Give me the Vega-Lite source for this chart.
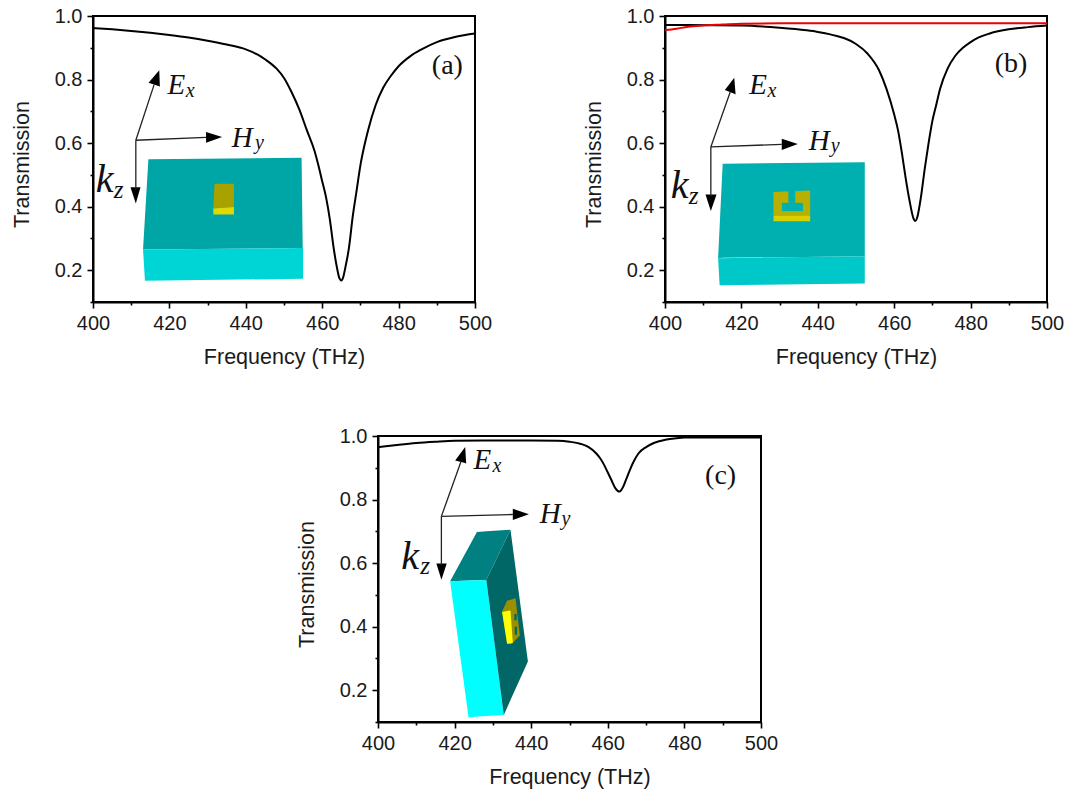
{"$schema":"https://vega.github.io/schema/vega-lite/v6.json","padding":{"left":10,"top":5,"right":0,"bottom":0},"background":"white",
"config":{"view":{"stroke":null},"axis":{"grid":false,"domainColor":"#000","domainWidth":2,"tickColor":"#000","tickWidth":1.6,"labelFont":"Liberation Sans","labelFontSize":20,"labelColor":"#1a1a1a","titleFont":"Liberation Sans","titleFontSize":21.5,"titleFontWeight":"normal","titleColor":"#1a1a1a","labelOverlap":false,"labelFlush":false,"labelBound":false}},
"resolve":{"scale":{"color":"independent","size":"independent"}},
"datasets":{
"curve":[
{"panel":"a","series":"black","x":400,"y":0.962},{"panel":"a","series":"black","x":405,"y":0.958},{"panel":"a","series":"black","x":410,"y":0.953},{"panel":"a","series":"black","x":415,"y":0.947},{"panel":"a","series":"black","x":420,"y":0.94},{"panel":"a","series":"black","x":425,"y":0.932},{"panel":"a","series":"black","x":430,"y":0.922},{"panel":"a","series":"black","x":435,"y":0.91},{"panel":"a","series":"black","x":440,"y":0.895},{"panel":"a","series":"black","x":443,"y":0.879},{"panel":"a","series":"black","x":445,"y":0.864},{"panel":"a","series":"black","x":448,"y":0.835},{"panel":"a","series":"black","x":450,"y":0.805},{"panel":"a","series":"black","x":452,"y":0.76},{"panel":"a","series":"black","x":454,"y":0.706},{"panel":"a","series":"black","x":456,"y":0.64},{"panel":"a","series":"black","x":458,"y":0.575},{"panel":"a","series":"black","x":459,"y":0.53},{"panel":"a","series":"black","x":460,"y":0.48},{"panel":"a","series":"black","x":461,"y":0.43},{"panel":"a","series":"black","x":462,"y":0.36},{"panel":"a","series":"black","x":463,"y":0.27},{"panel":"a","series":"black","x":464,"y":0.2},{"panel":"a","series":"black","x":464.5,"y":0.175},{"panel":"a","series":"black","x":465,"y":0.168},{"panel":"a","series":"black","x":465.5,"y":0.178},{"panel":"a","series":"black","x":466,"y":0.205},{"panel":"a","series":"black","x":467,"y":0.27},{"panel":"a","series":"black","x":468,"y":0.37},{"panel":"a","series":"black","x":469,"y":0.45},{"panel":"a","series":"black","x":470,"y":0.53},{"panel":"a","series":"black","x":471,"y":0.59},{"panel":"a","series":"black","x":472,"y":0.64},{"panel":"a","series":"black","x":474,"y":0.72},{"panel":"a","series":"black","x":476,"y":0.775},{"panel":"a","series":"black","x":478,"y":0.812},{"panel":"a","series":"black","x":480,"y":0.842},{"panel":"a","series":"black","x":483,"y":0.873},{"panel":"a","series":"black","x":486,"y":0.895},{"panel":"a","series":"black","x":490,"y":0.918},{"panel":"a","series":"black","x":495,"y":0.935},{"panel":"a","series":"black","x":500,"y":0.945},
{"panel":"b","series":"black","x":400,"y":0.972},{"panel":"b","series":"black","x":420,"y":0.97},{"panel":"b","series":"black","x":430,"y":0.963},{"panel":"b","series":"black","x":437,"y":0.955},{"panel":"b","series":"black","x":440,"y":0.95},{"panel":"b","series":"black","x":443,"y":0.943},{"panel":"b","series":"black","x":445,"y":0.937},{"panel":"b","series":"black","x":447,"y":0.93},{"panel":"b","series":"black","x":450,"y":0.912},{"panel":"b","series":"black","x":453,"y":0.882},{"panel":"b","series":"black","x":456,"y":0.83},{"panel":"b","series":"black","x":458,"y":0.77},{"panel":"b","series":"black","x":460,"y":0.69},{"panel":"b","series":"black","x":461,"y":0.64},{"panel":"b","series":"black","x":462,"y":0.57},{"panel":"b","series":"black","x":463,"y":0.49},{"panel":"b","series":"black","x":464,"y":0.42},{"panel":"b","series":"black","x":465,"y":0.365},{"panel":"b","series":"black","x":465.5,"y":0.355},{"panel":"b","series":"black","x":466,"y":0.365},{"panel":"b","series":"black","x":467,"y":0.43},{"panel":"b","series":"black","x":468,"y":0.52},{"panel":"b","series":"black","x":469,"y":0.6},{"panel":"b","series":"black","x":470,"y":0.67},{"panel":"b","series":"black","x":471,"y":0.72},{"panel":"b","series":"black","x":472,"y":0.77},{"panel":"b","series":"black","x":474,"y":0.835},{"panel":"b","series":"black","x":476,"y":0.875},{"panel":"b","series":"black","x":478,"y":0.9},{"panel":"b","series":"black","x":480,"y":0.918},{"panel":"b","series":"black","x":482,"y":0.932},{"panel":"b","series":"black","x":485,"y":0.945},{"panel":"b","series":"black","x":490,"y":0.958},{"panel":"b","series":"black","x":495,"y":0.965},{"panel":"b","series":"black","x":500,"y":0.97},
{"panel":"b","series":"red","x":400,"y":0.955},{"panel":"b","series":"red","x":403,"y":0.96},{"panel":"b","series":"red","x":406,"y":0.966},{"panel":"b","series":"red","x":410,"y":0.97},{"panel":"b","series":"red","x":415,"y":0.973},{"panel":"b","series":"red","x":420,"y":0.976},{"panel":"b","series":"red","x":430,"y":0.977},{"panel":"b","series":"red","x":460,"y":0.977},{"panel":"b","series":"red","x":500,"y":0.977},
{"panel":"c","series":"black","x":400,"y":0.965},{"panel":"c","series":"black","x":402,"y":0.968},{"panel":"c","series":"black","x":405,"y":0.972},{"panel":"c","series":"black","x":410,"y":0.978},{"panel":"c","series":"black","x":415,"y":0.982},{"panel":"c","series":"black","x":420,"y":0.985},{"panel":"c","series":"black","x":430,"y":0.986},{"panel":"c","series":"black","x":440,"y":0.986},{"panel":"c","series":"black","x":447,"y":0.985},{"panel":"c","series":"black","x":450,"y":0.982},{"panel":"c","series":"black","x":453,"y":0.975},{"panel":"c","series":"black","x":455,"y":0.965},{"panel":"c","series":"black","x":457,"y":0.945},{"panel":"c","series":"black","x":458,"y":0.93},{"panel":"c","series":"black","x":459,"y":0.91},{"panel":"c","series":"black","x":460,"y":0.885},{"panel":"c","series":"black","x":461,"y":0.86},{"panel":"c","series":"black","x":462,"y":0.835},{"panel":"c","series":"black","x":463,"y":0.825},{"panel":"c","series":"black","x":463.5,"y":0.83},{"panel":"c","series":"black","x":464,"y":0.84},{"panel":"c","series":"black","x":465,"y":0.87},{"panel":"c","series":"black","x":466,"y":0.9},{"panel":"c","series":"black","x":467,"y":0.925},{"panel":"c","series":"black","x":468,"y":0.945},{"panel":"c","series":"black","x":470,"y":0.965},{"panel":"c","series":"black","x":472,"y":0.978},{"panel":"c","series":"black","x":475,"y":0.988},{"panel":"c","series":"black","x":478,"y":0.993},{"panel":"c","series":"black","x":480,"y":0.995},{"panel":"c","series":"black","x":500,"y":0.995}
],
"shape":[
{"panel":"a","part":"1top","x":413.1,"y":0.265,"bottom":0.265},{"panel":"a","part":"1top","x":414.5,"y":0.549,"bottom":0.265},{"panel":"a","part":"1top","x":454.6,"y":0.554,"bottom":0.27},{"panel":"a","part":"1top","x":454.9,"y":0.27,"bottom":0.27},
{"panel":"a","part":"2front","x":413.1,"y":0.265,"bottom":0.265},{"panel":"a","part":"2front","x":413.6,"y":0.265,"bottom":0.167},{"panel":"a","part":"2front","x":454.9,"y":0.27,"bottom":0.173},{"panel":"a","part":"2front","x":455,"y":0.27,"bottom":0.173},
{"panel":"a","part":"3gold","x":431.5,"y":0.394,"bottom":0.394},{"panel":"a","part":"3gold","x":431.8,"y":0.472,"bottom":0.394},{"panel":"a","part":"3gold","x":436.9,"y":0.472,"bottom":0.399},
{"panel":"a","part":"4goldfront","x":431.5,"y":0.394,"bottom":0.375},{"panel":"a","part":"4goldfront","x":436.9,"y":0.399,"bottom":0.375},
{"panel":"a","part":"7headE","x":414.54,"y":0.79,"bottom":0.79},{"panel":"a","part":"7headE","x":417.34,"y":0.829,"bottom":0.779},{"panel":"a","part":"7headE","x":417.51,"y":0.777,"bottom":0.777},
{"panel":"a","part":"8headH","x":429.6,"y":0.635,"bottom":0.601},{"panel":"a","part":"8headH","x":433.8,"y":0.619,"bottom":0.619},
{"panel":"a","part":"9headK","x":409.81,"y":0.461,"bottom":0.461},{"panel":"a","part":"9headK","x":411.21,"y":0.461,"bottom":0.41},{"panel":"a","part":"9headK","x":412.43,"y":0.461,"bottom":0.461},
{"panel":"b","part":"1top","x":413.9,"y":0.238,"bottom":0.238},{"panel":"b","part":"1top","x":415.1,"y":0.535,"bottom":0.239},{"panel":"b","part":"1top","x":452.2,"y":0.54,"bottom":0.244},{"panel":"b","part":"1top","x":452.3,"y":0.54,"bottom":0.244},
{"panel":"b","part":"2front","x":413.9,"y":0.238,"bottom":0.238},{"panel":"b","part":"2front","x":414.3,"y":0.238,"bottom":0.153},{"panel":"b","part":"2front","x":452.2,"y":0.244,"bottom":0.158},{"panel":"b","part":"2front","x":452.3,"y":0.244,"bottom":0.158},
{"panel":"b","part":"3gold","x":428.4,"y":0.446,"bottom":0.372},{"panel":"b","part":"3gold","x":438,"y":0.451,"bottom":0.372},
{"panel":"b","part":"4goldfront","x":428.4,"y":0.372,"bottom":0.354},{"panel":"b","part":"4goldfront","x":438,"y":0.372,"bottom":0.354},
{"panel":"b","part":"5hole","x":432.3,"y":0.452,"bottom":0.412},{"panel":"b","part":"5hole","x":434.1,"y":0.452,"bottom":0.412},
{"panel":"b","part":"6hole","x":430.6,"y":0.412,"bottom":0.386},{"panel":"b","part":"6hole","x":436.1,"y":0.412,"bottom":0.386},
{"panel":"b","part":"7headE","x":415.67,"y":0.767,"bottom":0.767},{"panel":"b","part":"7headE","x":418.13,"y":0.806,"bottom":0.755},{"panel":"b","part":"7headE","x":418.48,"y":0.753,"bottom":0.753},
{"panel":"b","part":"8headH","x":430.56,"y":0.614,"bottom":0.578},{"panel":"b","part":"8headH","x":434.76,"y":0.597,"bottom":0.597},
{"panel":"b","part":"9headK","x":410.6,"y":0.438,"bottom":0.438},{"panel":"b","part":"9headK","x":412,"y":0.438,"bottom":0.386},{"panel":"b","part":"9headK","x":413.49,"y":0.438,"bottom":0.438},
{"panel":"c","part":"1top","x":418.83,"y":0.543,"bottom":0.543},{"panel":"c","part":"1top","x":425.83,"y":0.698,"bottom":0.546},{"panel":"c","part":"1top","x":428.28,"y":0.7,"bottom":0.547},{"panel":"c","part":"1top","x":434.59,"y":0.705,"bottom":0.705},
{"panel":"c","part":"2front","x":418.83,"y":0.543,"bottom":0.543},{"panel":"c","part":"2front","x":423.64,"y":0.545,"bottom":0.115},{"panel":"c","part":"2front","x":428.28,"y":0.547,"bottom":0.1185},{"panel":"c","part":"2front","x":432.84,"y":0.122,"bottom":0.122},
{"panel":"c","part":"3side","x":428.28,"y":0.547,"bottom":0.547},{"panel":"c","part":"3side","x":432.84,"y":0.661,"bottom":0.122},{"panel":"c","part":"3side","x":434.59,"y":0.705,"bottom":0.169},{"panel":"c","part":"3side","x":439.14,"y":0.29,"bottom":0.29},
{"panel":"c","part":"4gold","x":432.4,"y":0.448,"bottom":0.448},{"panel":"c","part":"4gold","x":433.71,"y":0.482,"bottom":0.346},{"panel":"c","part":"4gold","x":435.03,"y":0.486,"bottom":0.346},{"panel":"c","part":"4gold","x":435.9,"y":0.49,"bottom":0.358},{"panel":"c","part":"4gold","x":437.04,"y":0.372,"bottom":0.372},
{"panel":"c","part":"5goldfront","x":432.4,"y":0.446,"bottom":0.446},{"panel":"c","part":"5goldfront","x":433.71,"y":0.449,"bottom":0.346},{"panel":"c","part":"5goldfront","x":434.59,"y":0.451,"bottom":0.347},{"panel":"c","part":"5goldfront","x":435.2,"y":0.349,"bottom":0.349},
{"panel":"c","part":"6hole","x":435.6,"y":0.44,"bottom":0.42},{"panel":"c","part":"6hole","x":436.2,"y":0.44,"bottom":0.42},
{"panel":"c","part":"6hole2","x":435.7,"y":0.4,"bottom":0.375},{"panel":"c","part":"6hole2","x":436.3,"y":0.4,"bottom":0.375},
{"panel":"c","part":"7headE","x":420.14,"y":0.923,"bottom":0.923},{"panel":"c","part":"7headE","x":422.77,"y":0.965,"bottom":0.915},{"panel":"c","part":"7headE","x":423.03,"y":0.913,"bottom":0.913},
{"panel":"c","part":"8headH","x":435.2,"y":0.771,"bottom":0.736},{"panel":"c","part":"8headH","x":439.4,"y":0.754,"bottom":0.754},
{"panel":"c","part":"9headK","x":415.24,"y":0.599,"bottom":0.599},{"panel":"c","part":"9headK","x":416.55,"y":0.599,"bottom":0.548},{"panel":"c","part":"9headK","x":417.95,"y":0.599,"bottom":0.599}
],
"shaft":[
{"panel":"a","name":"E","x":411.21,"y":0.609},{"panel":"a","name":"E","x":416,"y":0.784},
{"panel":"a","name":"H","x":411.21,"y":0.609},{"panel":"a","name":"H","x":429.6,"y":0.618},
{"panel":"a","name":"K","x":411.21,"y":0.609},{"panel":"a","name":"K","x":411.21,"y":0.454},
{"panel":"b","name":"E","x":412,"y":0.588},{"panel":"b","name":"E","x":417.07,"y":0.761},
{"panel":"b","name":"H","x":412,"y":0.588},{"panel":"b","name":"H","x":430.56,"y":0.596},
{"panel":"b","name":"K","x":412,"y":0.588},{"panel":"b","name":"K","x":412,"y":0.433},
{"panel":"c","name":"E","x":416.55,"y":0.747},{"panel":"c","name":"E","x":421.63,"y":0.918},
{"panel":"c","name":"H","x":416.55,"y":0.747},{"panel":"c","name":"H","x":435.2,"y":0.753},
{"panel":"c","name":"K","x":416.55,"y":0.747},{"panel":"c","name":"K","x":416.55,"y":0.593}
],
"label":[
{"panel":"a","kind":"big","t":"E","x":419.5,"y":0.756},{"panel":"a","kind":"sub","t":"x","x":424.3,"y":0.746},{"panel":"a","kind":"big","t":"H","x":436.3,"y":0.588},{"panel":"a","kind":"sub","t":"y","x":442.4,"y":0.58},{"panel":"a","kind":"k","t":"k","x":400.7,"y":0.446},{"panel":"a","kind":"zsub","t":"z","x":405.4,"y":0.428},
{"panel":"b","kind":"big","t":"E","x":422.07,"y":0.756},{"panel":"b","kind":"sub","t":"x","x":426.8,"y":0.746},{"panel":"b","kind":"big","t":"H","x":437.6,"y":0.577},{"panel":"b","kind":"sub","t":"y","x":443.4,"y":0.572},{"panel":"b","kind":"k","t":"k","x":401.5,"y":0.427},{"panel":"b","kind":"zsub","t":"z","x":406.2,"y":0.409},
{"panel":"c","kind":"big","t":"E","x":424.96,"y":0.897},{"panel":"c","kind":"sub","t":"x","x":429.9,"y":0.887},{"panel":"c","kind":"big","t":"H","x":442.2,"y":0.727},{"panel":"c","kind":"sub","t":"y","x":447.9,"y":0.72},{"panel":"c","kind":"k","t":"k","x":406.1,"y":0.582},{"panel":"c","kind":"zsub","t":"z","x":411,"y":0.566}
],
"tag":[
{"panel":"a","t":"(a)","x":488.7,"y":0.816},{"panel":"b","t":"(b)","x":486.3,"y":0.824},{"panel":"c","t":"(c)","x":485.4,"y":0.85}
]},
"vconcat":[
{"resolve":{"scale":{"color":"independent","size":"independent"}},"hconcat":[
{"width":382,"height":286,"view":{"stroke":"#000","strokeWidth":2},"resolve":{"scale":{"color":"independent"}},
"encoding":{"x":{"field":"x","type":"quantitative","title":"Frequency (THz)","scale":{"domain":[400,500],"nice":false,"zero":false},"axis":{"values":[400,410,420,430,440,450,460,470,480,490,500],"labelExpr":"datum.value % 20 === 0 ? datum.label : ''","tickSize":{"condition":{"test":"datum.value % 20 === 0","value":6},"value":3},"labelPadding":5,"titlePadding":13}},"y":{"field":"y","type":"quantitative","title":"Transmission","scale":{"domain":[0.1,1],"nice":false,"zero":false},"axis":{"values":[0.1,0.2,0.3,0.4,0.5,0.6,0.7,0.8,0.9,1.0],"format":".1f","labelExpr":"round(datum.value*10) % 2 === 0 ? datum.label : ''","tickSize":{"condition":{"test":"round(datum.value*10) % 2 === 0","value":6},"value":3},"labelPadding":5,"titlePadding":21,"titleY":148}}},
"layer":[
{"data":{"name":"shape"},"transform":[{"filter":"datum.panel === 'a'"}],"mark":{"type":"area","stroke":null},"encoding":{"y2":{"field":"bottom"},"color":{"field":"part","type":"nominal","legend":null,"scale":{"domain":["1top","2front","3gold","4goldfront","7headE","8headH","9headK"],"range":["#00a5a5","#00d5d5","#a8a200","#e0d800","#000000","#000000","#000000"]}}}},
{"data":{"name":"shaft"},"transform":[{"filter":"datum.panel === 'a'"}],"mark":{"type":"line","color":"#222","strokeWidth":1.3},"encoding":{"detail":{"field":"name"},"order":{"field":"y"}}},
{"data":{"name":"curve"},"transform":[{"filter":"datum.panel === 'a'"}],"mark":{"type":"line","strokeWidth":2,"interpolate":"monotone"},"encoding":{"color":{"field":"series","type":"nominal","legend":null,"scale":{"domain":["black","red"],"range":["#000000","#ee0000"]}}}},
{"data":{"name":"label"},"transform":[{"filter":"datum.panel === 'a'"}],"mark":{"type":"text","font":"Liberation Serif","fontStyle":"italic","align":"left","baseline":"alphabetic","color":"#111"},"encoding":{"text":{"field":"t"},"size":{"field":"kind","legend":null,"scale":{"type":"ordinal","domain":["big","sub","k","zsub"],"range":[29,20,40,25]}}}},
{"data":{"name":"tag"},"transform":[{"filter":"datum.panel === 'a'"}],"mark":{"type":"text","font":"Liberation Serif","fontSize":28,"align":"left","baseline":"alphabetic","color":"#111"},"encoding":{"text":{"field":"t"}}}
]},
{"width":382,"height":286,"view":{"stroke":"#000","strokeWidth":2},"resolve":{"scale":{"color":"independent"}},
"encoding":{"x":{"field":"x","type":"quantitative","title":"Frequency (THz)","scale":{"domain":[400,500],"nice":false,"zero":false},"axis":{"values":[400,410,420,430,440,450,460,470,480,490,500],"labelExpr":"datum.value % 20 === 0 ? datum.label : ''","tickSize":{"condition":{"test":"datum.value % 20 === 0","value":6},"value":3},"labelPadding":5,"titlePadding":13}},"y":{"field":"y","type":"quantitative","title":"Transmission","scale":{"domain":[0.1,1],"nice":false,"zero":false},"axis":{"values":[0.1,0.2,0.3,0.4,0.5,0.6,0.7,0.8,0.9,1.0],"format":".1f","labelExpr":"round(datum.value*10) % 2 === 0 ? datum.label : ''","tickSize":{"condition":{"test":"round(datum.value*10) % 2 === 0","value":6},"value":3},"labelPadding":5,"titlePadding":21,"titleY":148}}},
"layer":[
{"data":{"name":"shape"},"transform":[{"filter":"datum.panel === 'b'"}],"mark":{"type":"area","stroke":null},"encoding":{"y2":{"field":"bottom"},"color":{"field":"part","type":"nominal","legend":null,"scale":{"domain":["1top","2front","3gold","4goldfront","5hole","6hole","7headE","8headH","9headK"],"range":["#00afaf","#00c8c8","#b8b000","#d8d000","#00afaf","#00afaf","#000000","#000000","#000000"]}}}},
{"data":{"name":"shaft"},"transform":[{"filter":"datum.panel === 'b'"}],"mark":{"type":"line","color":"#222","strokeWidth":1.3},"encoding":{"detail":{"field":"name"},"order":{"field":"y"}}},
{"data":{"name":"curve"},"transform":[{"filter":"datum.panel === 'b'"}],"mark":{"type":"line","strokeWidth":2,"interpolate":"monotone"},"encoding":{"color":{"field":"series","type":"nominal","legend":null,"scale":{"domain":["black","red"],"range":["#000000","#ee0000"]}}}},
{"data":{"name":"label"},"transform":[{"filter":"datum.panel === 'b'"}],"mark":{"type":"text","font":"Liberation Serif","fontStyle":"italic","align":"left","baseline":"alphabetic","color":"#111"},"encoding":{"text":{"field":"t"},"size":{"field":"kind","legend":null,"scale":{"type":"ordinal","domain":["big","sub","k","zsub"],"range":[29,20,40,25]}}}},
{"data":{"name":"tag"},"transform":[{"filter":"datum.panel === 'b'"}],"mark":{"type":"text","font":"Liberation Serif","fontSize":28,"align":"left","baseline":"alphabetic","color":"#111"},"encoding":{"text":{"field":"t"}}}
]}
],"spacing":89},
{"resolve":{"scale":{"color":"independent","size":"independent"}},"hconcat":[
{"width":202,"height":1,"data":{"values":[]},"mark":{"type":"point","opacity":0},"encoding":{}},
{"width":383,"height":286,"view":{"stroke":"#000","strokeWidth":2},"resolve":{"scale":{"color":"independent"}},
"encoding":{"x":{"field":"x","type":"quantitative","title":"Frequency (THz)","scale":{"domain":[400,500],"nice":false,"zero":false},"axis":{"values":[400,410,420,430,440,450,460,470,480,490,500],"labelExpr":"datum.value % 20 === 0 ? datum.label : ''","tickSize":{"condition":{"test":"datum.value % 20 === 0","value":6},"value":3},"labelPadding":5,"titlePadding":13}},"y":{"field":"y","type":"quantitative","title":"Transmission","scale":{"domain":[0.1,1],"nice":false,"zero":false},"axis":{"values":[0.1,0.2,0.3,0.4,0.5,0.6,0.7,0.8,0.9,1.0],"format":".1f","labelExpr":"round(datum.value*10) % 2 === 0 ? datum.label : ''","tickSize":{"condition":{"test":"round(datum.value*10) % 2 === 0","value":6},"value":3},"labelPadding":5,"titlePadding":21,"titleY":148}}},
"layer":[
{"data":{"name":"shape"},"transform":[{"filter":"datum.panel === 'c'"}],"mark":{"type":"area","stroke":null},"encoding":{"y2":{"field":"bottom"},"color":{"field":"part","type":"nominal","legend":null,"scale":{"domain":["1top","2front","3side","4gold","5goldfront","6hole","6hole2","7headE","8headH","9headK"],"range":["#008080","#00ffff","#006666","#9a8f00","#ffff00","#006666","#006666","#000000","#000000","#000000"]}}}},
{"data":{"name":"shaft"},"transform":[{"filter":"datum.panel === 'c'"}],"mark":{"type":"line","color":"#222","strokeWidth":1.3},"encoding":{"detail":{"field":"name"},"order":{"field":"y"}}},
{"data":{"name":"curve"},"transform":[{"filter":"datum.panel === 'c'"}],"mark":{"type":"line","strokeWidth":2,"interpolate":"monotone"},"encoding":{"color":{"field":"series","type":"nominal","legend":null,"scale":{"domain":["black","red"],"range":["#000000","#ee0000"]}}}},
{"data":{"name":"label"},"transform":[{"filter":"datum.panel === 'c'"}],"mark":{"type":"text","font":"Liberation Serif","fontStyle":"italic","align":"left","baseline":"alphabetic","color":"#111"},"encoding":{"text":{"field":"t"},"size":{"field":"kind","legend":null,"scale":{"type":"ordinal","domain":["big","sub","k","zsub"],"range":[29,20,40,25]}}}},
{"data":{"name":"tag"},"transform":[{"filter":"datum.panel === 'c'"}],"mark":{"type":"text","font":"Liberation Serif","fontSize":28,"align":"left","baseline":"alphabetic","color":"#111"},"encoding":{"text":{"field":"t"}}}
]}
],"spacing":0}
],"spacing":56}
